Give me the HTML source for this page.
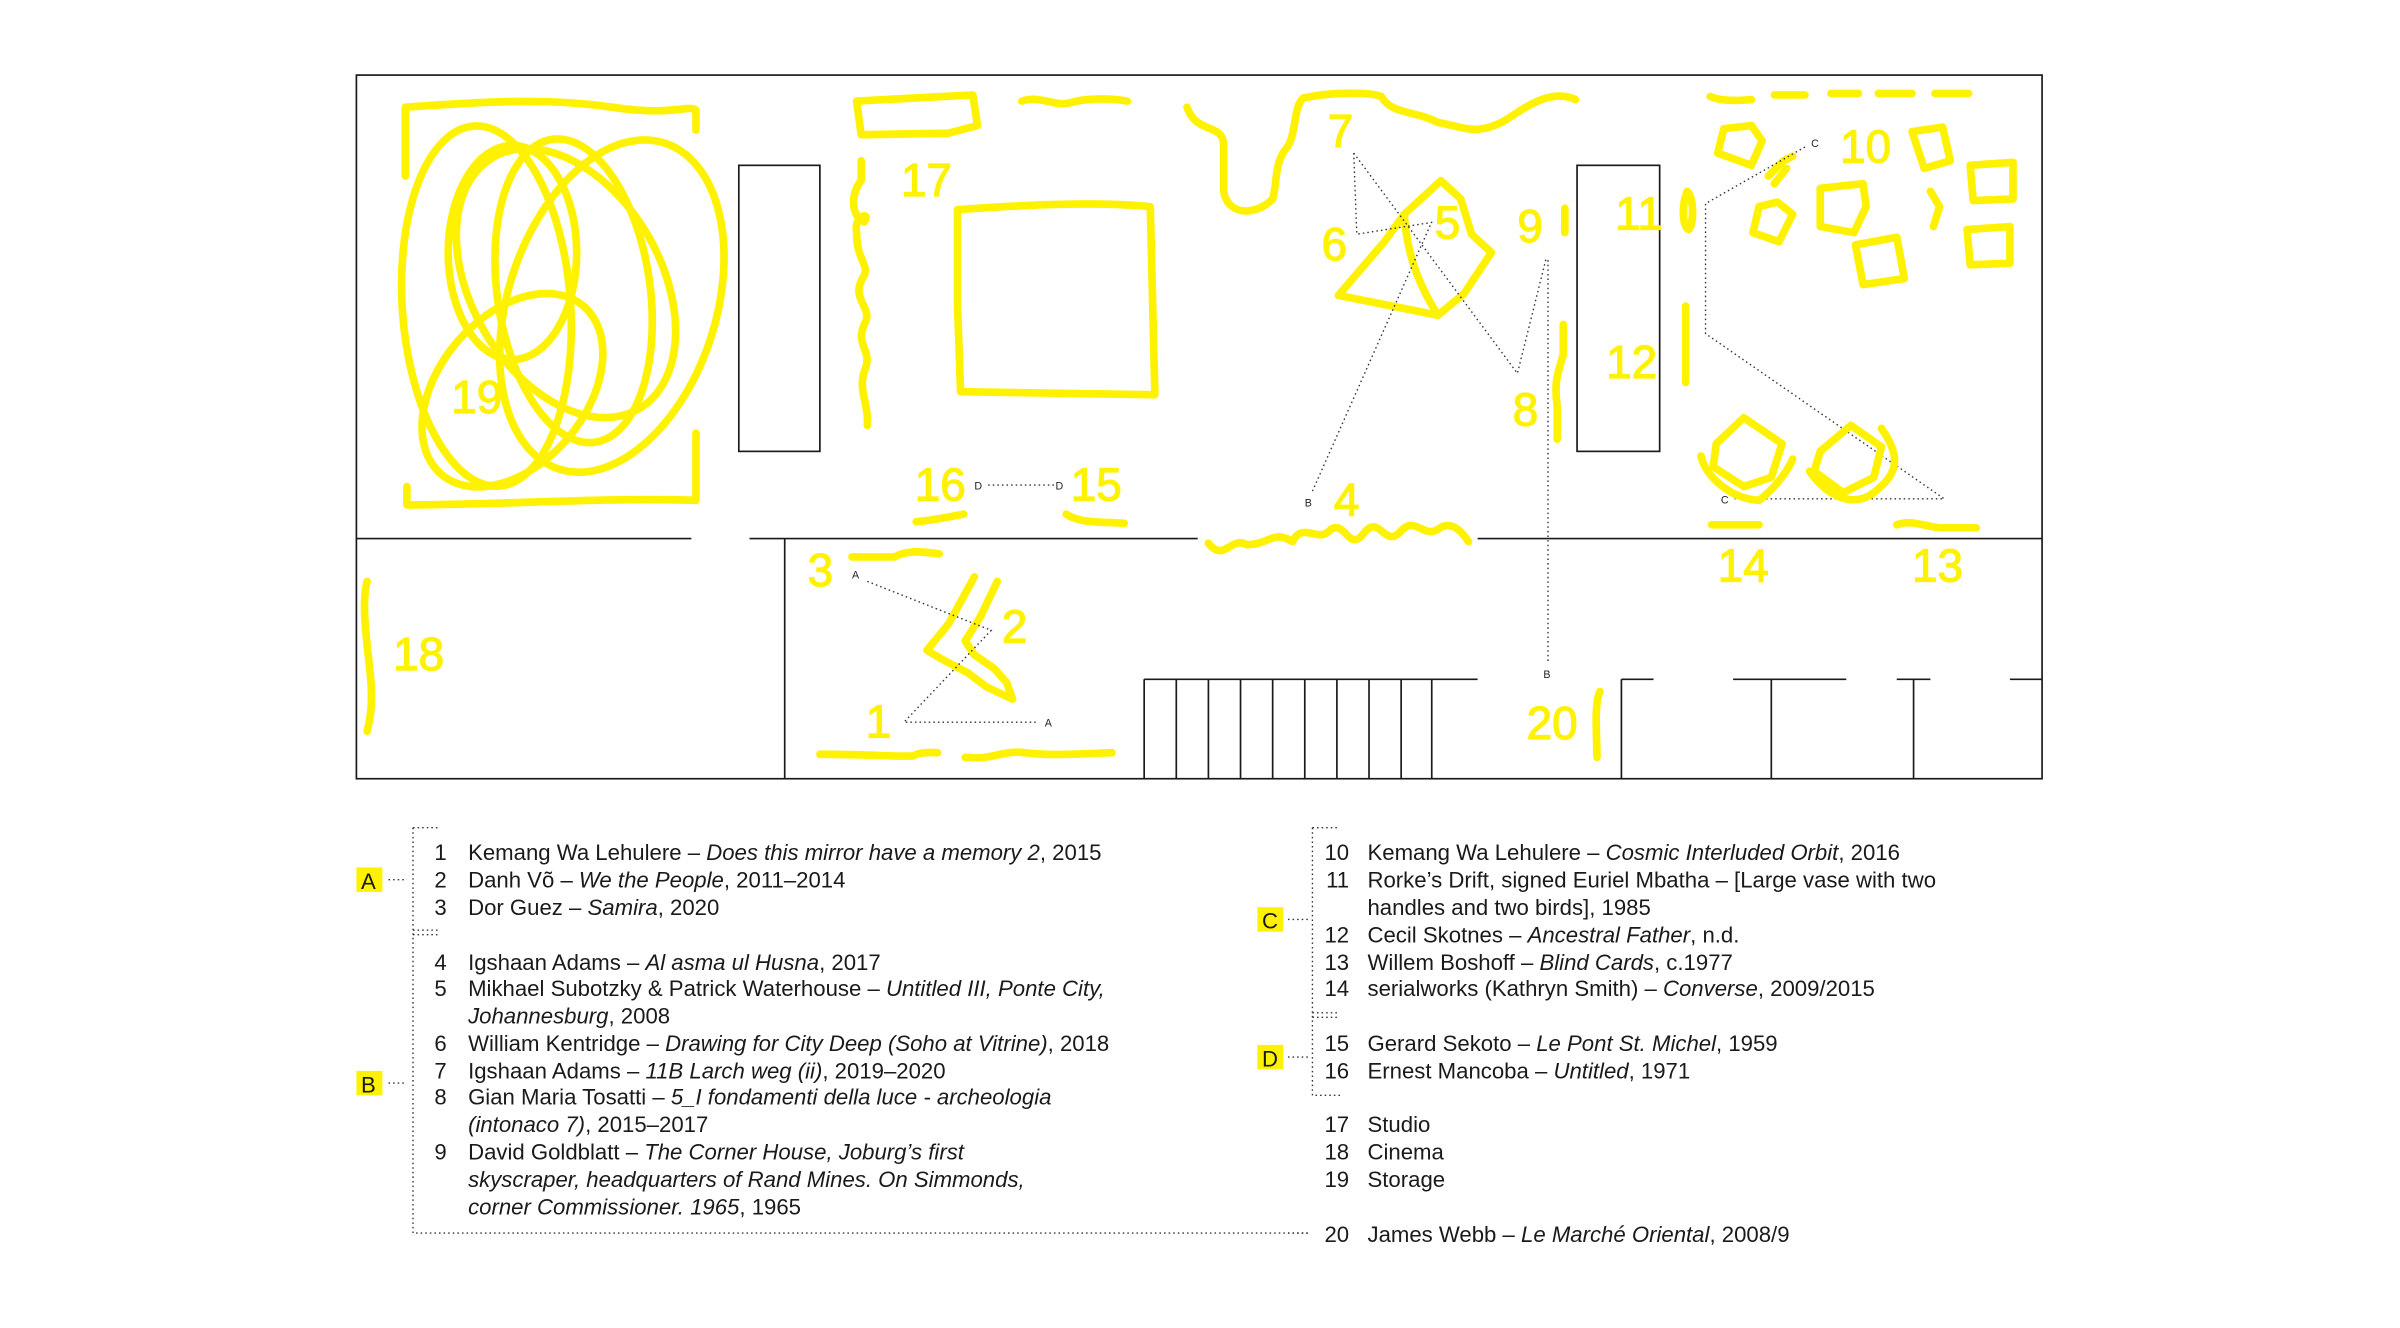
<!DOCTYPE html>
<html><head><meta charset="utf-8"><style>
html,body{margin:0;padding:0;background:#fff;width:2400px;height:1328px;overflow:hidden}
svg{display:block}
.y{fill:none;stroke:#fff200;stroke-width:5;stroke-linecap:round;stroke-linejoin:round}
.w{fill:none;stroke:#1a1a1a;stroke-width:1.1}
.d{fill:none;stroke:#333;stroke-width:0.9;stroke-dasharray:1 2}
.n{fill:#fff200;stroke:#fff200;stroke-width:0.8;font-family:"Liberation Sans",sans-serif;font-size:30px}
.s{fill:#222;font-family:"Liberation Sans",sans-serif;font-size:7px}
.t{fill:#1a1a1a;font-family:"Liberation Sans",sans-serif;font-size:14.5px}
.i{font-style:italic}
</style></head><body>
<svg width="2400" height="1328" viewBox="0 0 1569 868" xmlns="http://www.w3.org/2000/svg">
<!-- walls -->
<rect class="w" x="233" y="49" width="1102" height="460"/>
<path class="w" d="M233 352H452M490 352H783M966 352H1335M513 352V509"/>
<rect class="w" x="483" y="108" width="53" height="187"/>
<rect class="w" x="1031" y="108" width="54" height="187"/>
<path class="w" d="M748 444H966M748 444V509M769 444V509M790 444V509M811 444V509M832 444V509M853 444V509M874 444V509M895 444V509M916 444V509M936 444V509"/>
<path class="w" d="M1060 444H1081M1133 444H1207M1240 444H1262M1314 444H1335M1060 444V509M1158 444V509M1251 444V509"/>

<!-- 19 storage -->
<path class="y" d="M265 115V70C320 66 360 64 400 70S450 68 455 72V85"/>
<path class="y" d="M266 318V330C330 330 390 325 455 327V283"/>
<ellipse class="y" cx="318" cy="200" rx="55" ry="118" transform="rotate(-4 318 200)"/>
<ellipse class="y" cx="400" cy="200" rx="68" ry="112" transform="rotate(18 400 200)"/>
<ellipse class="y" cx="370" cy="185" rx="62" ry="95" transform="rotate(-30 370 185)"/>
<ellipse class="y" cx="335" cy="255" rx="48" ry="72" transform="rotate(40 335 255)"/>
<ellipse class="y" cx="335" cy="165" rx="42" ry="70"/>
<ellipse class="y" cx="375" cy="190" rx="50" ry="100" transform="rotate(-8 375 190)"/>
<text class="n" x="295" y="270">19</text>

<!-- 17 studio -->
<path class="y" d="M560 66L636 62 639 82 620 87 563 88Z"/>
<path class="y" d="M668 66C680 62 690 70 700 67S725 64 737 66"/>
<path class="y" d="M626 137C680 133 720 132 752 135L755 258 628 256 626 200Z"/>
<path class="y" d="M563 105V118C557 125 555 140 565 145 570 138 558 140 560 152 560 170 568 172 565 180 555 195 570 200 566 210 558 225 570 228 566 240 560 255 568 262 567 278"/>
<text class="n" x="589" y="128">17</text>

<!-- 16 15 -->
<text class="n" x="598" y="327">16</text>
<text class="n" x="700" y="327">15</text>
<path class="y" d="M599 341C610 340 620 338 630 336"/>
<path class="y" d="M697 336C705 342 720 341 735 342"/>
<text class="s" x="637" y="320">D</text><text class="s" x="690" y="320">D</text>
<path class="d" d="M646 317H689"/>

<!-- 3 2 1 -->
<text class="n" x="528" y="383">3</text>
<path class="y" d="M557 364H585C592 360 600 360 614 362"/>
<text class="n" x="655" y="420">2</text>
<path class="y" d="M637 377L620 408 606 425 616 431 633 440 645 449 662 457 658 446 650 437 637 428 631 419 641 403 652 380"/>
<text class="n" x="566" y="482">1</text>
<path class="y" d="M536 493C570 493 590 495 597 494 603 491 610 492 613 492"/>
<path class="y" d="M631 495C650 497 655 490 670 492S700 493 727 492"/>
<text class="s" x="557" y="378">A</text><text class="s" x="683" y="475">A</text>
<path class="d" d="M567 380L648 412 591 472H678"/>

<!-- 18 -->
<path class="y" d="M240 380C236 395 240 420 242 440 244 460 242 470 240 478"/>
<text class="n" x="257" y="438">18</text>

<!-- 7 wavy -->
<path class="y" d="M776 70C782 88 800 80 800 95V125C802 140 820 142 832 130 835 120 833 108 840 98 848 90 845 70 852 64 870 60 895 60 903 63 910 75 925 72 940 80 955 82 965 90 985 78 1000 68 1015 58 1030 65"/>
<text class="n" x="868" y="96">7</text>
<text class="n" x="864" y="170">6</text>
<text class="n" x="938" y="156">5</text>
<path class="y" d="M875 193L905 158 918 140 942 118 955 130 962 153 975 165 957 192 940 206ZM918 140C920 170 930 190 940 206"/>
<path class="d" d="M885 100L887 153 938 145M885 100L992 244 1011 168M858 321L936 145"/>
<text class="s" x="853" y="331">B</text>
<text class="n" x="872" y="337">4</text>
<path class="y" d="M790 355C800 368 805 350 815 356 830 356 832 346 845 354 852 340 862 356 870 346 880 340 882 362 892 348 902 336 905 358 915 348 925 336 930 352 940 346 948 340 955 346 960 354"/>

<!-- 9 8 -->
<text class="n" x="992" y="158">9</text>
<path class="y" d="M1023 136V152"/>
<text class="n" x="989" y="278">8</text>
<path class="y" d="M1022 212V232C1018 245 1016 250 1018 265V287"/>
<path class="d" d="M1012 170V432"/>
<text class="s" x="1009" y="443">B</text>
<text class="n" x="998" y="483">20</text>
<path class="y" d="M1046 452C1042 460 1044 480 1044 495"/>

<!-- 11 12 -->
<text class="n" x="1056" y="150">11</text>
<text class="n" x="1050" y="247">12</text>
<path class="y" d="M1103 125C1099 135 1100 148 1104 150 1108 145 1107 128 1103 125Z"/>
<path class="y" d="M1102 200V250"/>

<!-- 10 -->
<path class="y" d="M1118 63C1125 66 1135 66 1145 65M1160 62H1180M1197 61H1215M1228 61H1250M1265 61H1287"/>
<text class="n" x="1203" y="106">10</text>
<path class="y" d="M1127 84L1145 82 1152 92 1145 108 1123 100Z"/>
<path class="y" d="M1150 135L1162 132 1172 140 1163 158 1146 152Z"/>
<path class="y" d="M1156 115L1166 105 1172 102M1160 120L1168 110"/>
<path class="y" d="M1190 123L1218 120 1220 135 1212 152 1190 148Z"/>
<path class="y" d="M1250 86L1270 83 1275 105 1258 110Z"/>
<path class="y" d="M1213 160L1240 155 1245 182 1218 186Z"/>
<path class="y" d="M1288 108L1316 106 1316 130 1290 131Z"/>
<path class="y" d="M1286 150L1314 148 1314 172 1288 173Z"/>
<path class="y" d="M1262 125L1268 135 1264 148"/>
<path class="d" d="M1180 96L1115 133V218L1271 326H1134"/>
<text class="s" x="1184" y="96">C</text>
<text class="s" x="1125" y="329">C</text>

<!-- 14 13 chairs -->
<path class="y" d="M1122 290L1140 273 1165 290 1158 312 1140 318 1120 305Z"/>
<path class="y" d="M1112 298C1115 312 1132 326 1150 327 1162 318 1170 305 1172 300"/>
<path class="y" d="M1190 295L1210 278 1230 292 1225 312 1205 322 1186 308Z"/>
<path class="y" d="M1183 308C1195 325 1212 332 1225 322 1240 310 1244 300 1230 280"/>
<path class="y" d="M1119 343H1150"/>
<path class="y" d="M1240 343C1250 339 1260 345 1270 345H1292"/>
<text class="n" x="1123" y="380">14</text>
<text class="n" x="1250" y="380">13</text>

<!-- legend brackets -->
<path class="d" d="M270 541V806H857M270 541H288M270 608H288M270 611H288M254 575H266M254 708H266"/>
<path class="d" d="M858 541V716H876M858 541H876M858 662H876M858 665H876M842 601H855M842 691H855M842 806H856"/>
<rect x="233" y="567" width="17" height="16" fill="#fff200"/><text class="t" x="236" y="581">A</text>
<rect x="233" y="700" width="17" height="16" fill="#fff200"/><text class="t" x="236" y="714">B</text>
<rect x="822" y="593" width="17" height="16" fill="#fff200"/><text class="t" x="825" y="607">C</text>
<rect x="822" y="683" width="17" height="16" fill="#fff200"/><text class="t" x="825" y="697">D</text>

<g class="t">
<text x="292" y="562" text-anchor="end">1</text><text x="306" y="562">Kemang Wa Lehulere – <tspan class="i">Does this mirror have a memory 2</tspan>, 2015</text>
<text x="292" y="580" text-anchor="end">2</text><text x="306" y="580">Danh Võ – <tspan class="i">We the People</tspan>, 2011–2014</text>
<text x="292" y="598" text-anchor="end">3</text><text x="306" y="598">Dor Guez – <tspan class="i">Samira</tspan>, 2020</text>
<text x="292" y="634" text-anchor="end">4</text><text x="306" y="634">Igshaan Adams – <tspan class="i">Al asma ul Husna</tspan>, 2017</text>
<text x="292" y="651" text-anchor="end">5</text><text x="306" y="651">Mikhael Subotzky &amp; Patrick Waterhouse – <tspan class="i">Untitled III, Ponte City,</tspan></text>
<text x="306" y="669"><tspan class="i">Johannesburg</tspan>, 2008</text>
<text x="292" y="687" text-anchor="end">6</text><text x="306" y="687">William Kentridge – <tspan class="i">Drawing for City Deep (Soho at Vitrine)</tspan>, 2018</text>
<text x="292" y="705" text-anchor="end">7</text><text x="306" y="705">Igshaan Adams – <tspan class="i">11B Larch weg (ii)</tspan>, 2019–2020</text>
<text x="292" y="722" text-anchor="end">8</text><text x="306" y="722">Gian Maria Tosatti – <tspan class="i">5_I fondamenti della luce - archeologia</tspan></text>
<text x="306" y="740"><tspan class="i">(intonaco 7)</tspan>, 2015–2017</text>
<text x="292" y="758" text-anchor="end">9</text><text x="306" y="758">David Goldblatt – <tspan class="i">The Corner House, Joburg’s first</tspan></text>
<text x="306" y="776" class="i">skyscraper, headquarters of Rand Mines. On Simmonds,</text>
<text x="306" y="794"><tspan class="i">corner Commissioner. 1965</tspan>, 1965</text>

<text x="882" y="562" text-anchor="end">10</text><text x="894" y="562">Kemang Wa Lehulere – <tspan class="i">Cosmic Interluded Orbit</tspan>, 2016</text>
<text x="882" y="580" text-anchor="end">11</text><text x="894" y="580">Rorke’s Drift, signed Euriel Mbatha – [Large vase with two</text>
<text x="894" y="598">handles and two birds], 1985</text>
<text x="882" y="616" text-anchor="end">12</text><text x="894" y="616">Cecil Skotnes – <tspan class="i">Ancestral Father</tspan>, n.d.</text>
<text x="882" y="634" text-anchor="end">13</text><text x="894" y="634">Willem Boshoff – <tspan class="i">Blind Cards</tspan>, c.1977</text>
<text x="882" y="651" text-anchor="end">14</text><text x="894" y="651">serialworks (Kathryn Smith) – <tspan class="i">Converse</tspan>, 2009/2015</text>
<text x="882" y="687" text-anchor="end">15</text><text x="894" y="687">Gerard Sekoto – <tspan class="i">Le Pont St. Michel</tspan>, 1959</text>
<text x="882" y="705" text-anchor="end">16</text><text x="894" y="705">Ernest Mancoba – <tspan class="i">Untitled</tspan>, 1971</text>
<text x="882" y="740" text-anchor="end">17</text><text x="894" y="740">Studio</text>
<text x="882" y="758" text-anchor="end">18</text><text x="894" y="758">Cinema</text>
<text x="882" y="776" text-anchor="end">19</text><text x="894" y="776">Storage</text>
<text x="882" y="812" text-anchor="end">20</text><text x="894" y="812">James Webb – <tspan class="i">Le Marché Oriental</tspan>, 2008/9</text>
</g>
</svg>
</body></html>
